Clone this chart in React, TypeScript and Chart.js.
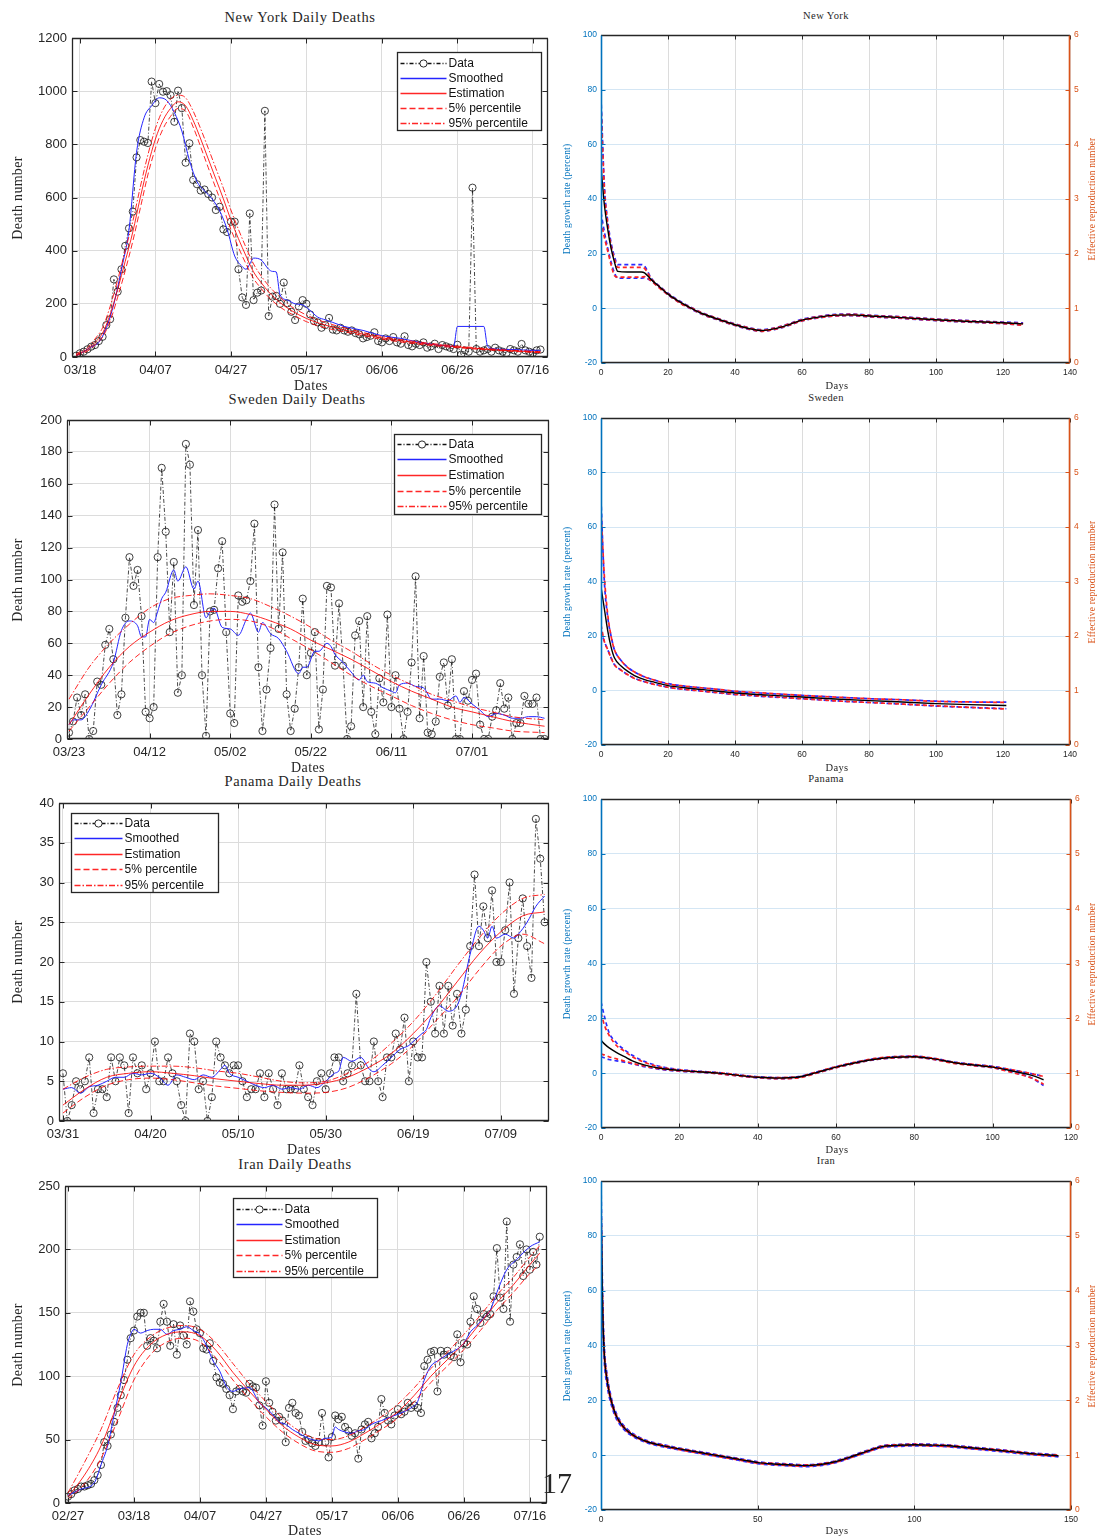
import React, { useEffect, useRef } from 'react';
import { Chart, registerables } from 'chart.js';

Chart.register(...registerables);

const SANS = '"Liberation Sans", Arial, Helvetica, sans-serif';
const SERIF = '"Liberation Serif", "Times New Roman", serif';
Chart.defaults.font.family = SANS;

// ======================= NEW YORK =======================
const nyTickDays = [0, 20, 40, 60, 80, 100, 120];
const nyTickLabels = ['03/18', '04/07', '04/27', '05/17', '06/06', '06/26', '07/16'];
const nyDataStart = -1;
const nyData = [
  5, 14, 20, 29, 39, 45, 60, 76, 120, 142,
  292, 246, 330, 418, 484, 547, 751, 816, 810, 805,
  1036, 955, 1027, 998, 1000, 985, 885, 1002, 936, 731,
  804, 666, 650, 626, 630, 613, 600, 553, 565, 480,
  470, 509, 509, 330, 224, 196, 540, 214, 242, 250,
  926, 154, 227, 230, 200, 280, 202, 170, 139, 190,
  214, 200, 160, 135, 130, 110, 120, 147, 103, 100,
  110, 100, 95, 100, 90, 85, 70, 75, 80, 93,
  60, 55, 70, 60, 75, 55, 50, 78, 45, 40,
  50, 45, 55, 35, 40, 50, 30, 45, 40, 35,
  30, 46, 9, 25, 20, 637, 30, 20, 25, 30,
  20, 35, 25, 20, 15, 30, 25, 20, 49, 25,
  20, 15, 25, 28,
];
const nySmDays = [-1, 1, 3, 5, 7, 9, 11, 13, 15, 17, 19, 21, 23, 25, 27, 29, 31, 33, 35, 37, 39, 41, 43, 44, 45, 46, 48, 50, 51, 52, 53, 55, 57, 59, 61, 63, 65, 67, 70, 75, 80, 85, 90, 95, 99, 100, 107, 108, 110, 115, 120, 122];
const nySm = [5, 20, 38, 55, 110, 200, 330, 478, 770, 900, 945, 975, 965, 920, 850, 740, 660, 625, 595, 550, 480, 380, 340, 330, 350, 372, 365, 330, 322, 320, 235, 214, 200, 196, 175, 150, 140, 130, 115, 100, 80, 70, 55, 45, 40, 115, 115, 40, 30, 28, 25, 25];
const nyEstDays = [-1, 2, 4, 6, 8, 10, 12, 14, 16, 18, 20, 22, 24, 26, 28, 30, 32, 34, 36, 38, 40, 42, 44, 46, 48, 50, 53, 56, 60, 65, 70, 80, 90, 100, 110, 122];
const nyEst = [8, 28, 55, 90, 160, 255, 360, 470, 600, 720, 820, 890, 935, 960, 945, 890, 820, 745, 670, 595, 515, 445, 380, 320, 280, 245, 205, 175, 145, 120, 102, 72, 52, 38, 27, 18];
const nyP95 = [12, 35, 68, 110, 190, 290, 400, 510, 640, 760, 860, 930, 970, 985, 975, 925, 858, 785, 710, 635, 553, 480, 412, 350, 305, 268, 225, 190, 158, 130, 110, 77, 56, 41, 29, 20];
const nyP5 = [5, 22, 45, 75, 135, 225, 325, 435, 560, 685, 785, 858, 905, 935, 925, 865, 790, 712, 635, 560, 480, 412, 350, 295, 258, 225, 188, 162, 133, 110, 95, 67, 48, 35, 25, 16];

const nyRtDays = [0, 1, 2, 3, 4, 5, 8, 12, 13, 15, 18, 20, 24, 27, 30, 35, 40, 45, 48, 52, 56, 60, 65, 70, 75, 80, 90, 100, 110, 120, 126];
const nyGrowth = [52, 38, 29, 22, 17, 13.5, 13.3, 13.3, 13, 10.5, 7.3, 5.2, 2, 0, -1.8, -4, -6, -7.6, -8.1, -7.4, -6, -4.3, -3.2, -2.5, -2.4, -2.8, -3.4, -4.2, -4.8, -5.3, -5.7];
const nyGrowthHi = [77, 45, 32, 24, 19, 16, 16, 16, 15.5, 11, 7.6, 5.5, 2.3, 0.3, -1.5, -3.7, -5.7, -7.3, -7.8, -7.1, -5.7, -4, -2.9, -2.2, -2.1, -2.5, -3.1, -3.9, -4.5, -5, -5.3];
const nyGrowthLo = [35, 28, 22, 17, 13, 11, 11, 11, 11.2, 10, 7, 4.9, 1.7, -0.3, -2.1, -4.3, -6.3, -7.9, -8.4, -7.7, -6.3, -4.6, -3.5, -2.8, -2.7, -3.1, -3.7, -4.5, -5.1, -5.6, -6.1];
const nyRHi = [4.7, 3.2, 2.55, 2.15, 1.9, 1.75, 1.75, 1.75, 1.73, 1.54, 1.37, 1.27, 1.1, 1.01, 0.92, 0.81, 0.71, 0.63, 0.6, 0.64, 0.71, 0.79, 0.85, 0.88, 0.89, 0.87, 0.84, 0.8, 0.77, 0.74, 0.72];
const nyRLo = [2.6, 2.3, 2.05, 1.8, 1.6, 1.57, 1.57, 1.57, 1.58, 1.5, 1.34, 1.25, 1.08, 0.99, 0.9, 0.79, 0.69, 0.61, 0.58, 0.62, 0.69, 0.77, 0.83, 0.86, 0.87, 0.85, 0.82, 0.78, 0.75, 0.72, 0.69];

// ======================= SWEDEN =======================
const swTickDays = [0, 20, 40, 60, 80, 100];
const swTickLabels = ['03/23', '04/12', '05/02', '05/22', '06/11', '07/01'];
const swDataStart = 0;
const swData = [
  4, 11, 26, 15, 28, 0, 5, 36, 34, 59,
  69, 50, 15, 28, 76, 114, 96, 106, 77, 17,
  13, 20, 114, 170, 130, 67, 111, 29, 40, 185,
  172, 84, 131, 40, 2, 80, 81, 107, 124, 67,
  16, 10, 90, 86, 87, 99, 135, 45, 5, 31,
  57, 147, 69, 117, 28, 5, 19, 45, 88, 40,
  54, 67, 6, 31, 96, 95, 46, 85, 46, 0,
  8, 65, 74, 20, 77, 17, 3, 38, 23, 78,
  20, 40, 19, 0, 17, 48, 102, 13, 52, 4,
  3, 11, 39, 48, 21, 50, 0, 0, 30, 24,
  37, 41, 9, 0, 0, 14, 18, 35, 19, 26,
  0, 10, 10, 27, 22, 22, 26, 0, 0,
];
const swSmDays = [0, 1, 3, 5, 8, 11, 13, 15, 17, 18, 19, 20, 21, 22, 23, 24, 26, 27, 29, 31, 32, 34, 35, 36, 38, 40, 42, 44, 45, 47, 48, 50, 52, 54, 57, 58, 59, 61, 62, 64, 65, 66, 68, 70, 72, 73, 74, 76, 78, 80, 81, 82, 84, 86, 88, 90, 92, 94, 96, 97, 98, 100, 102, 104, 106, 108, 110, 112, 114, 116, 118];
const swSm = [9, 12, 12, 18, 34, 48, 68, 74, 71, 64, 64, 75, 73, 80, 88, 92, 106, 99, 108, 94, 99, 76, 80, 82, 70, 69, 65, 75, 79, 67, 73, 66, 63, 55, 41, 45, 45, 55, 55, 60, 58, 53, 48, 42, 37, 40, 36, 35, 32, 30, 29, 34, 35, 33, 32, 25, 25, 24, 27, 23, 26, 22, 18, 14, 16, 15, 13, 13, 14, 14, 13];
const swEstDays = [0, 5, 10, 15, 20, 25, 30, 35, 40, 45, 50, 55, 60, 65, 70, 75, 80, 85, 90, 95, 100, 105, 110, 118];
const swEst = [9, 28, 45, 58, 67, 74, 78, 80, 80, 78, 74, 69, 62, 56, 50, 43, 36, 30, 25, 20, 17, 14, 11, 8];
const swP95 = [25, 45, 60, 72, 82, 88, 90, 91, 90, 88, 83, 77, 70, 62, 55, 47, 40, 34, 28, 24, 20, 17, 14, 12];
const swP5 = [5, 20, 35, 48, 58, 66, 71, 74, 75, 74, 70, 63, 56, 48, 40, 33, 27, 21, 16, 12, 9, 7, 5, 4];

const swRtDays = [0, 1, 2, 3, 4, 6, 8, 10, 13, 16, 20, 25, 30, 35, 40, 50, 60, 70, 80, 90, 100, 110, 121];
const swGrowth = [38, 30, 22, 16, 12, 9, 7, 5.5, 4, 3, 1.8, 1, 0.4, -0.3, -0.9, -1.7, -2.4, -3.1, -3.7, -4.2, -4.8, -5.2, -5.5];
const swGrowthHi = [70, 40, 27, 20, 15, 11, 8.5, 6.8, 5, 3.8, 2.5, 1.6, 1, 0.4, -0.3, -1.1, -1.8, -2.4, -3, -3.4, -3.9, -4.2, -4.3];
const swGrowthLo = [22, 18, 15, 12, 9.5, 7.5, 5.8, 4.5, 3.2, 2.3, 1.2, 0.4, -0.2, -0.9, -1.5, -2.3, -3, -3.8, -4.4, -5, -5.7, -6.2, -6.7];
const swRHi = [4.3, 3.1, 2.4, 2, 1.75, 1.55, 1.42, 1.34, 1.25, 1.19, 1.12, 1.08, 1.05, 1.02, 0.99, 0.95, 0.91, 0.88, 0.85, 0.83, 0.8, 0.79, 0.78];
const swRLo = [2.2, 1.9, 1.75, 1.6, 1.47, 1.37, 1.29, 1.22, 1.16, 1.11, 1.06, 1.02, 0.99, 0.96, 0.93, 0.89, 0.85, 0.81, 0.78, 0.75, 0.72, 0.69, 0.66];

// ======================= PANAMA =======================
const paTickDays = [0, 20, 40, 60, 80, 100];
const paTickLabels = ['03/31', '04/20', '05/10', '05/30', '06/19', '07/09'];
const paDataStart = 0;
const paData = [
  6, 0, 2, 5, 4, 5, 8, 1, 4, 4,
  3, 8, 5, 8, 7, 1, 8, 6, 7, 4,
  6, 10, 5, 5, 8, 6, 5, 2, 0, 11,
  10, 4, 5, 0, 3, 10, 8, 7, 6, 7,
  7, 5, 3, 4, 4, 6, 3, 6, 4, 2,
  6, 4, 4, 4, 7, 4, 3, 2, 5, 6,
  4, 6, 8, 8, 5, 6, 7, 16, 7, 5,
  5, 10, 5, 3, 8, 8, 11, 9, 13, 5,
  10, 8, 8, 20, 15, 11, 17, 11, 17, 12,
  16, 11, 14, 22, 31, 22, 27, 23, 29, 20,
  20, 24, 30, 16, 23, 28, 22, 18, 38, 33,
  25,
];
const paSmDays = [0, 2, 4, 6, 8, 10, 12, 14, 16, 18, 20, 22, 24, 26, 28, 30, 32, 34, 36, 37, 38, 40, 42, 44, 46, 48, 50, 52, 54, 56, 58, 60, 62, 63, 64, 66, 68, 70, 71, 73, 75, 77, 79, 80, 82, 83, 84, 86, 88, 90, 91, 93, 95, 96, 97, 98, 99, 101, 103, 104, 106, 108, 110];
const paSm = [4, 4.2, 3.5, 4.3, 4.5, 5, 5.5, 5.5, 6, 5.8, 6, 5.5, 4.5, 5.8, 5.5, 5.2, 5.8, 5.5, 6.5, 7, 6, 5.5, 5, 4.5, 4.2, 4.5, 4, 4.2, 4, 4.5, 4.2, 5, 6, 6.3, 8, 7.5, 8, 6.5, 6.2, 7, 8, 9, 9.5, 10, 11, 11.5, 13, 14.5, 13.8, 14.5, 16, 21, 24.5, 24, 23, 24.5, 23, 23.5, 23, 23.5, 25, 27, 28.3];
const paEstDays = [0, 5, 10, 15, 20, 25, 30, 35, 40, 45, 50, 55, 60, 65, 70, 75, 80, 85, 90, 95, 100, 105, 110];
const paEst = [2, 4, 5.5, 6, 6.2, 6, 5.7, 5.3, 5, 4.7, 4.5, 4.5, 4.8, 5.5, 6.8, 8.5, 11, 14, 17.5, 21, 23.8, 25.8, 26.3];
const paP95 = [4, 5.5, 6.5, 6.8, 6.9, 6.9, 6.7, 6.3, 6, 5.5, 5, 4.8, 5, 6, 7.5, 9.8, 12.5, 15.8, 19.5, 23, 26, 28, 28.5];
const paP5 = [1, 3, 4.5, 5.2, 5.4, 5.2, 4.8, 4.4, 4.1, 3.8, 3.6, 3.5, 3.6, 4.2, 5.5, 7.2, 9.5, 12.5, 15.5, 19, 22, 23.5, 22.3];

const paRtDays = [0, 1, 2, 4, 6, 8, 11, 15, 20, 25, 30, 35, 40, 45, 50, 55, 60, 65, 70, 75, 80, 85, 90, 95, 100, 105, 110, 113];
const paGrowth = [12, 10.5, 9.3, 7.5, 6, 4.5, 3, 1.8, 1, 0.5, 0, -0.8, -1.5, -1.8, -1.5, 0.2, 2.2, 3.8, 5.1, 5.8, 6, 5.2, 3.9, 3, 2.2, 0.8, -0.8, -2.4];
const paGrowthHi = [26, 20, 15, 11, 8.5, 6.5, 4.3, 2.5, 1.3, 0.7, 0.2, -0.6, -1.3, -1.6, -1.3, 0.4, 2.4, 4, 5.3, 6, 6.2, 5.4, 4.1, 3.2, 2.5, 1.2, -0.2, -1.2];
const paGrowthLo = [6, 5.5, 5, 4.5, 4, 3.4, 2.4, 1.4, 0.7, 0.3, -0.2, -1, -1.7, -2, -1.7, 0, 2, 3.6, 4.9, 5.6, 5.8, 5, 3.7, 2.8, 2, 0.4, -1.8, -4.5];
const paRHi = [2.1, 1.85, 1.7, 1.5, 1.4, 1.3, 1.2, 1.11, 1.06, 1.03, 1.01, 0.97, 0.93, 0.92, 0.93, 1.02, 1.12, 1.2, 1.27, 1.3, 1.31, 1.27, 1.2, 1.16, 1.12, 1.06, 0.99, 0.94];
const paRLo = [1.35, 1.33, 1.3, 1.26, 1.22, 1.18, 1.13, 1.08, 1.04, 1.02, 0.99, 0.95, 0.92, 0.9, 0.91, 1, 1.1, 1.18, 1.25, 1.28, 1.29, 1.25, 1.18, 1.14, 1.1, 1.01, 0.91, 0.8];

// ======================= IRAN =======================
const irTickDays = [0, 20, 40, 60, 80, 100, 120, 140];
const irTickLabels = ['02/27', '03/18', '04/07', '04/27', '05/17', '06/06', '06/26', '07/16'];
const irDataStart = 0;
const irData = [
  5, 7, 10, 11, 13, 13, 14, 15, 18, 22,
  30, 48, 45, 54, 64, 75, 85, 97, 113, 130,
  136, 147, 150, 150, 124, 130, 128, 122, 143, 157,
  143, 124, 141, 117, 140, 132, 125, 159, 151, 137,
  134, 122, 121, 126, 112, 99, 95, 94, 90, 85,
  74, 88, 90, 88, 87, 94, 92, 91, 77, 61,
  96, 79, 72, 65, 68, 65, 48, 75, 79, 71,
  69, 56, 49, 50, 47, 45, 48, 71, 48, 36,
  52, 69, 66, 68, 60, 57, 53, 55, 35, 58,
  62, 64, 51, 55, 60, 82, 71, 65, 62, 69,
  74, 70, 72, 79, 75, 77, 75, 71, 108, 113,
  119, 120, 88, 120, 117, 120, 116, 115, 133, 111,
  126, 125, 143, 163, 153, 142, 149, 147, 149, 163,
  201, 162, 153, 222, 143, 188, 194, 204, 179, 200,
  184, 198, 188, 210,
];
const irSmDays = [0, 4, 8, 10, 12, 14, 16, 18, 19, 20, 22, 24, 26, 28, 30, 32, 34, 36, 38, 40, 42, 44, 46, 48, 50, 52, 55, 58, 60, 62, 64, 66, 68, 70, 72, 74, 76, 78, 80, 81, 82, 84, 86, 88, 90, 92, 95, 98, 100, 104, 106, 108, 110, 112, 115, 120, 122, 124, 126, 128, 130, 133, 136, 140, 143];
const irSm = [6, 11, 16, 30, 45, 70, 95, 125, 133, 137, 134, 136, 137, 137, 133, 136, 137, 139, 136, 133, 124, 112, 104, 92, 88, 90, 91, 79, 75, 70, 64, 62, 58, 55, 52, 50, 49, 51, 52, 60, 58, 56, 55, 57, 58, 62, 65, 68, 70, 75, 80, 97, 108, 112, 117, 126, 135, 140, 146, 152, 166, 184, 192, 202, 206];
const irEstDays = [0, 5, 10, 15, 20, 25, 30, 35, 40, 45, 50, 55, 60, 65, 70, 75, 80, 85, 90, 95, 100, 105, 110, 115, 120, 125, 130, 135, 140, 143];
const irEst = [5, 22, 45, 78, 108, 125, 133, 135, 132, 120, 103, 88, 74, 61, 52, 46, 45, 48, 55, 63, 72, 85, 100, 113, 126, 142, 158, 172, 188, 197];
const irP95 = [8, 32, 58, 90, 117, 131, 138, 140, 137, 126, 110, 94, 80, 67, 57, 51, 50, 53, 60, 68, 78, 91, 106, 119, 133, 148, 164, 178, 194, 203];
const irP5 = [3, 15, 35, 65, 97, 117, 127, 130, 127, 114, 97, 82, 68, 56, 47, 41, 40, 43, 50, 58, 67, 80, 95, 108, 121, 136, 152, 166, 181, 188];

const irRtDays = [0, 0.5, 1, 2, 3, 4, 5, 7, 9, 11, 15, 20, 25, 30, 35, 40, 45, 50, 55, 60, 65, 70, 75, 80, 85, 90, 95, 100, 105, 110, 115, 120, 125, 130, 135, 140, 146];
const irGrowth = [95, 55, 38, 27, 21, 17, 14, 10.5, 8.3, 6.8, 4.8, 3.4, 2.3, 1.3, 0.3, -0.7, -1.7, -2.7, -3.2, -3.5, -3.8, -3.4, -2.3, -0.5, 1.5, 3.2, 3.6, 3.8, 3.7, 3.5, 3, 2.5, 2, 1.4, 0.8, 0.3, -0.2];
const irGrowthHi = [100, 60, 41, 29, 22.5, 18, 15, 11.2, 8.9, 7.3, 5.2, 3.8, 2.6, 1.6, 0.6, -0.4, -1.4, -2.4, -2.9, -3.2, -3.5, -3.1, -2, -0.2, 1.8, 3.5, 3.9, 4.1, 4, 3.8, 3.3, 2.8, 2.3, 1.7, 1.1, 0.6, 0.1];
const irGrowthLo = [85, 50, 35, 25, 19.5, 15.8, 13, 9.8, 7.7, 6.3, 4.4, 3, 1.9, 0.9, -0.1, -1.1, -2.1, -3.1, -3.6, -3.9, -4.2, -3.8, -2.7, -0.9, 1.1, 2.8, 3.2, 3.4, 3.3, 3.1, 2.6, 2.1, 1.6, 1, 0.4, -0.1, -0.6];
const irRHi = [5.7, 3.8, 2.95, 2.4, 2.08, 1.87, 1.72, 1.54, 1.43, 1.35, 1.25, 1.18, 1.12, 1.07, 1.02, 0.97, 0.92, 0.87, 0.85, 0.83, 0.82, 0.84, 0.89, 0.98, 1.08, 1.17, 1.19, 1.2, 1.19, 1.18, 1.16, 1.13, 1.11, 1.08, 1.05, 1.02, 1];
const irRLo = [5.2, 3.6, 2.85, 2.32, 2.02, 1.82, 1.68, 1.51, 1.4, 1.33, 1.23, 1.16, 1.1, 1.05, 1, 0.95, 0.9, 0.85, 0.83, 0.81, 0.8, 0.82, 0.87, 0.96, 1.06, 1.15, 1.17, 1.18, 1.17, 1.16, 1.14, 1.11, 1.09, 1.06, 1.03, 1, 0.98];

// ======================= PLUGINS =======================
const framePlugin = {
  id: 'frame',
  afterDraw(chart: any, _args: any, opts: any) {
    const { ctx, chartArea: a, scales } = chart;
    const L = Math.round(a.left) + 0.5;
    const R = Math.round(a.right) - 0.5;
    const T = Math.round(a.top) + 0.5;
    const B = Math.round(a.bottom) - 0.5;
    const tl = opts.tick || 5;
    const w = opts.width || 1;
    const dark = '#262626';
    const line = (x1: number, y1: number, x2: number, y2: number, c: string, lw: number) => {
      ctx.strokeStyle = c;
      ctx.lineWidth = lw;
      ctx.beginPath();
      ctx.moveTo(x1, y1);
      ctx.lineTo(x2, y2);
      ctx.stroke();
    };
    ctx.save();
    ctx.setLineDash([]);
    const leftC = opts.leftColor || dark;
    const rightC = opts.rightColor || dark;
    scales.x.ticks.forEach((t: any) => {
      const px = Math.round(scales.x.getPixelForValue(t.value)) + 0.5;
      line(px, B, px, B - tl, dark, 1);
      line(px, T, px, T + tl, dark, 1);
    });
    scales.y.ticks.forEach((t: any) => {
      const py = Math.round(scales.y.getPixelForValue(t.value)) + 0.5;
      line(L, py, L + tl, py, leftC, 1);
      if (!scales.y1) line(R, py, R - tl, py, dark, 1);
    });
    if (scales.y1) {
      scales.y1.ticks.forEach((t: any) => {
        const py = Math.round(scales.y1.getPixelForValue(t.value)) + 0.5;
        line(R, py, R - tl, py, rightC, 1);
      });
    }
    line(L - 0.5, B, R + 0.5, B, dark, w);
    line(L - 0.5, T, R + 0.5, T, dark, w);
    line(L, T, L, B, leftC, w);
    line(R, T, R, B, rightC, w);
    ctx.restore();
  },
};

const legendPlugin = {
  id: 'matLegend',
  afterDraw(chart: any, _args: any, opts: any) {
    if (!opts || !opts.box) return;
    const { ctx, chartArea } = chart;
    const b = opts.box;
    const x = Math.round(chartArea.left + b.x) + 0.5;
    const y = Math.round(chartArea.top + b.y) + 0.5;
    ctx.save();
    ctx.setLineDash([]);
    ctx.fillStyle = '#ffffff';
    ctx.fillRect(x, y, b.w, b.h);
    ctx.strokeStyle = '#262626';
    ctx.lineWidth = 1.3;
    ctx.strokeRect(x, y, b.w, b.h);
    chart.data.datasets.forEach((ds: any, i: number) => {
      const cy = Math.round(y + b.rowTop + i * b.rowH) + 0.5;
      const x0 = x + 3;
      const x1 = x + 3 + b.lineLen;
      ctx.strokeStyle = ds.legendColor || ds.borderColor;
      ctx.lineWidth = 1.4;
      ctx.setLineDash(ds.borderDash || []);
      ctx.beginPath();
      ctx.moveTo(x0, cy);
      ctx.lineTo(x1, cy);
      ctx.stroke();
      ctx.setLineDash([]);
      if (ds.pointRadius > 0) {
        ctx.beginPath();
        ctx.arc((x0 + x1) / 2, cy, ds.pointRadius, 0, Math.PI * 2);
        ctx.fillStyle = '#fff';
        ctx.fill();
        ctx.strokeStyle = ds.pointBorderColor;
        ctx.lineWidth = 1;
        ctx.stroke();
      }
      ctx.fillStyle = '#111';
      ctx.font = '12px ' + SANS;
      ctx.textAlign = 'left';
      ctx.textBaseline = 'middle';
      ctx.fillText(ds.label, x1 + 2, cy + 0.5);
    });
    ctx.restore();
  },
};

const pts = (xs: number[], ys: number[]) => xs.map((x, i) => ({ x, y: ys[i] }));

// ======================= CONFIG BUILDERS =======================
const LEFT_PAD = { l: 50, r: 14, t: 10, b: 24 };
const RIGHT_PAD = { l: 30, r: 30, t: 10, b: 20 };

function deathsConfig(p: any) {
  const red = 'rgba(255,0,0,0.85)';
  const daily = p.data.map((v: number, i: number) => ({ x: p.dataStart + i, y: v }));
  return {
    type: 'line',
    data: {
      datasets: [
        {
          label: 'Data', data: daily, borderColor: 'rgba(0,0,0,0.8)', legendColor: '#111', borderWidth: 0.9,
          borderDash: [4, 2, 1, 2], pointRadius: 3.6, pointBorderColor: 'rgba(20,20,20,0.9)',
          pointBackgroundColor: 'rgba(0,0,0,0)', pointBorderWidth: 0.9, tension: 0, order: 5,
        },
        {
          label: 'Smoothed', data: pts(p.smDays, p.sm), borderColor: '#2424ff', borderWidth: 1,
          pointRadius: 0, cubicInterpolationMode: 'monotone', order: 4,
        },
        {
          label: 'Estimation', data: pts(p.estDays, p.est), borderColor: red, borderWidth: 1,
          pointRadius: 0, cubicInterpolationMode: 'monotone', order: 3,
        },
        {
          label: '5% percentile', data: pts(p.estDays, p.p5), borderColor: red, borderWidth: 1,
          borderDash: [6, 3], pointRadius: 0, cubicInterpolationMode: 'monotone', order: 2,
        },
        {
          label: '95% percentile', data: pts(p.estDays, p.p95), borderColor: red, borderWidth: 1,
          borderDash: [6, 2, 1.5, 2], pointRadius: 0, cubicInterpolationMode: 'monotone', order: 1,
        },
      ],
    },
    options: {
      responsive: false,
      animation: false,
      events: [],
      layout: { padding: { top: LEFT_PAD.t, right: LEFT_PAD.r, left: 0, bottom: 0 } },
      plugins: {
        legend: { display: false },
        tooltip: { enabled: false },
        title: { display: false },
        matLegend: { box: p.legend },
        frame: { tick: 5, width: 1.3 },
      },
      scales: {
        x: {
          type: 'linear', min: p.xMin, max: p.xMax,
          afterBuildTicks: (s: any) => { s.ticks = p.tickDays.map((v: number) => ({ value: v })); },
          ticks: {
            callback: (_v: any, i: number) => p.tickLabels[i], autoSkip: false, maxRotation: 0,
            font: { size: 13, family: SANS }, color: '#262626', padding: 6,
          },
          grid: { color: '#dcdcdc', drawTicks: false },
          border: { display: false },
          afterFit: (s: any) => { s.height = LEFT_PAD.b; s.paddingLeft = 0; s.paddingRight = 0; },
        },
        y: {
          type: 'linear', min: 0, max: p.yMax,
          ticks: {
            stepSize: p.yStep, font: { size: 13, family: SANS }, color: '#262626', padding: 5,
            callback: (v: any) => String(v),
          },
          grid: { color: '#dcdcdc', drawTicks: false },
          border: { display: false },
          afterFit: (s: any) => { s.width = LEFT_PAD.l; s.paddingTop = 0; s.paddingBottom = 0; },
        },
      },
    },
    plugins: [framePlugin, legendPlugin],
  };
}

function rateConfig(p: any) {
  const blue = '#2a2aff';
  const red = '#ff2222';
  const common = { pointRadius: 0, cubicInterpolationMode: 'monotone' };
  return {
    type: 'line',
    data: {
      datasets: [
        { label: 'Death growth rate', data: pts(p.days, p.g), borderColor: '#000', borderWidth: 1.4, yAxisID: 'y', order: 1, ...common },
        { label: 'Growth rate upper', data: pts(p.days, p.gHi), borderColor: blue, borderWidth: 1.7, borderDash: [4, 3], yAxisID: 'y', order: 3, ...common },
        { label: 'Growth rate lower', data: pts(p.days, p.gLo), borderColor: blue, borderWidth: 1.7, borderDash: [4, 3], yAxisID: 'y', order: 3, ...common },
        { label: 'Rt upper', data: pts(p.days, p.rHi), borderColor: red, borderWidth: 1.7, borderDash: [4, 3], yAxisID: 'y1', order: 2, ...common },
        { label: 'Rt lower', data: pts(p.days, p.rLo), borderColor: red, borderWidth: 1.7, borderDash: [4, 3], yAxisID: 'y1', order: 2, ...common },
      ],
    },
    options: {
      responsive: false,
      animation: false,
      events: [],
      layout: { padding: { top: RIGHT_PAD.t, right: 0, left: 0, bottom: 0 } },
      plugins: {
        legend: { display: false },
        tooltip: { enabled: false },
        title: { display: false },
        frame: { tick: 4, width: 1.6, leftColor: '#0072BD', rightColor: '#D95319' },
      },
      scales: {
        x: {
          type: 'linear', min: 0, max: p.xMax,
          ticks: { stepSize: p.xStep, font: { size: 8.5, family: SANS }, color: '#262626', padding: 5, maxRotation: 0 },
          grid: { color: '#dcdcdc', drawTicks: false },
          border: { display: false },
          afterFit: (s: any) => { s.height = RIGHT_PAD.b; s.paddingLeft = 0; s.paddingRight = 0; },
        },
        y: {
          type: 'linear', position: 'left', min: -20, max: 100,
          ticks: { stepSize: 20, font: { size: 8.5, family: SANS }, color: '#0072BD', padding: 4 },
          grid: { color: '#d4e6f4', drawTicks: false },
          border: { display: false },
          afterFit: (s: any) => { s.width = RIGHT_PAD.l; s.paddingTop = 0; s.paddingBottom = 0; },
        },
        y1: {
          type: 'linear', position: 'right', min: 0, max: 6,
          ticks: { stepSize: 1, font: { size: 8.5, family: SANS }, color: '#D95319', padding: 4 },
          grid: { display: false, drawTicks: false },
          border: { display: false },
          afterFit: (s: any) => { s.width = RIGHT_PAD.r; s.paddingTop = 0; s.paddingBottom = 0; },
        },
      },
    },
    plugins: [framePlugin],
  };
}

// ======================= PANEL DEFINITIONS =======================
const leftPanels = [
  {
    plot: { l: 72, t: 38, r: 548, b: 357 },
    cfg: () => deathsConfig({
      data: nyData, dataStart: nyDataStart, smDays: nySmDays, sm: nySm, estDays: nyEstDays, est: nyEst, p5: nyP5, p95: nyP95,
      xMin: -2.1, xMax: 124, tickDays: nyTickDays, tickLabels: nyTickLabels, yMax: 1200, yStep: 200,
      legend: { x: 325, y: 14, w: 144, h: 78, rowTop: 10, rowH: 15, lineLen: 46 },
    }),
  },
  {
    plot: { l: 67, t: 420, r: 549, b: 739 },
    cfg: () => deathsConfig({
      data: swData, dataStart: swDataStart, smDays: swSmDays, sm: swSm, estDays: swEstDays, est: swEst, p5: swP5, p95: swP95,
      xMin: -0.5, xMax: 119.1, tickDays: swTickDays, tickLabels: swTickLabels, yMax: 200, yStep: 20,
      legend: { x: 327, y: 14, w: 147, h: 80, rowTop: 9, rowH: 15.7, lineLen: 49 },
    }),
  },
  {
    plot: { l: 59, t: 803, r: 549, b: 1121 },
    cfg: () => deathsConfig({
      data: paData, dataStart: paDataStart, smDays: paSmDays, sm: paSm, estDays: paEstDays, est: paEst, p5: paP5, p95: paP95,
      xMin: -0.9, xMax: 111, tickDays: paTickDays, tickLabels: paTickLabels, yMax: 40, yStep: 5,
      legend: { x: 12, y: 10, w: 147, h: 79, rowTop: 9, rowH: 15.5, lineLen: 48 },
    }),
  },
  {
    plot: { l: 65, t: 1186, r: 547, b: 1503 },
    cfg: () => deathsConfig({
      data: irData, dataStart: irDataStart, smDays: irSmDays, sm: irSm, estDays: irEstDays, est: irEst, p5: irP5, p95: irP95,
      xMin: -0.9, xMax: 145.2, tickDays: irTickDays, tickLabels: irTickLabels, yMax: 250, yStep: 50,
      legend: { x: 168, y: 12, w: 144, h: 79, rowTop: 10, rowH: 15.6, lineLen: 46 },
    }),
  },
];

const rightPanels = [
  {
    plot: { l: 601, t: 35, r: 1070, b: 363 },
    cfg: () => rateConfig({ days: nyRtDays, g: nyGrowth, gHi: nyGrowthHi, gLo: nyGrowthLo, rHi: nyRHi, rLo: nyRLo, xMax: 140, xStep: 20 }),
  },
  {
    plot: { l: 601, t: 418, r: 1070, b: 745 },
    cfg: () => rateConfig({ days: swRtDays, g: swGrowth, gHi: swGrowthHi, gLo: swGrowthLo, rHi: swRHi, rLo: swRLo, xMax: 140, xStep: 20 }),
  },
  {
    plot: { l: 601, t: 799, r: 1071, b: 1128 },
    cfg: () => rateConfig({ days: paRtDays, g: paGrowth, gHi: paGrowthHi, gLo: paGrowthLo, rHi: paRHi, rLo: paRLo, xMax: 120, xStep: 20 }),
  },
  {
    plot: { l: 601, t: 1181, r: 1071, b: 1510 },
    cfg: () => rateConfig({ days: irRtDays, g: irGrowth, gHi: irGrowthHi, gLo: irGrowthLo, rHi: irRHi, rLo: irRLo, xMax: 150, xStep: 50 }),
  },
];

const leftTitles = ['New York Daily Deaths', 'Sweden Daily Deaths', 'Panama Daily Deaths', 'Iran Daily Deaths'];
const rightTitles = ['New York', 'Sweden', 'Panama', 'Iran'];

// ======================= COMPONENTS =======================
function ChartCanvas({ left, top, width, height, make }: any) {
  const ref = useRef<HTMLCanvasElement>(null);
  useEffect(() => {
    const chart = new Chart(ref.current as HTMLCanvasElement, make());
    return () => chart.destroy();
  }, [make]);
  return (
    <canvas
      ref={ref}
      width={width}
      height={height}
      style={{ position: 'absolute', left, top, width, height }}
    />
  );
}

function Txt({ x, y, size, color = '#262626', rotate = false, spacing = 0, family = SERIF, children }: any) {
  return (
    <div
      style={{
        position: 'absolute', left: x, top: y, fontSize: size, color, fontFamily: family,
        whiteSpace: 'nowrap', lineHeight: 1, letterSpacing: spacing,
        transform: `translate(-50%, -50%)${rotate ? ' rotate(-90deg)' : ''}`,
      }}
    >
      {children}
    </div>
  );
}

const leftTitlePos = [[300, 17], [297, 399], [293, 781], [295, 1164]];
const datesPos = [[311, 386], [308, 768], [304, 1150], [305, 1531]];
const rightTitleY = [16, 398, 779, 1161];
const daysY = [386, 768, 1150, 1531];

export default function App() {
  return (
    <div style={{ position: 'absolute', left: 0, top: 0, width: 1104, height: 1539, background: '#fff', overflow: 'hidden' }}>
      {leftPanels.map((p, i) => (
        <ChartCanvas
          key={'l' + i}
          left={p.plot.l - LEFT_PAD.l}
          top={p.plot.t - LEFT_PAD.t}
          width={p.plot.r - p.plot.l + LEFT_PAD.l + LEFT_PAD.r}
          height={p.plot.b - p.plot.t + LEFT_PAD.t + LEFT_PAD.b}
          make={p.cfg}
        />
      ))}
      {rightPanels.map((p, i) => (
        <ChartCanvas
          key={'r' + i}
          left={p.plot.l - RIGHT_PAD.l}
          top={p.plot.t - RIGHT_PAD.t}
          width={p.plot.r - p.plot.l + RIGHT_PAD.l + RIGHT_PAD.r}
          height={p.plot.b - p.plot.t + RIGHT_PAD.t + RIGHT_PAD.b}
          make={p.cfg}
        />
      ))}
      {leftTitles.map((t, i) => (
        <Txt key={'lt' + i} x={leftTitlePos[i][0]} y={leftTitlePos[i][1]} size={14.5} spacing={0.6}>{t}</Txt>
      ))}
      {datesPos.map((p, i) => (
        <Txt key={'dt' + i} x={p[0]} y={p[1]} size={14} spacing={0.4}>Dates</Txt>
      ))}
      {leftPanels.map((p, i) => (
        <Txt key={'dn' + i} x={18} y={(p.plot.t + p.plot.b) / 2} size={14} spacing={0.3} rotate>Death number</Txt>
      ))}
      {rightTitles.map((t, i) => (
        <Txt key={'rt' + i} x={826} y={rightTitleY[i]} size={10.5} spacing={0.4}>{t}</Txt>
      ))}
      {daysY.map((y, i) => (
        <Txt key={'dy' + i} x={837} y={y} size={10.5} spacing={0.3}>Days</Txt>
      ))}
      {rightPanels.map((p, i) => (
        <Txt key={'gr' + i} x={568} y={(p.plot.t + p.plot.b) / 2} size={9.5} spacing={0.2} color="#0072BD" rotate>Death growth rate (percent)</Txt>
      ))}
      {rightPanels.map((p, i) => (
        <Txt key={'er' + i} x={1093} y={(p.plot.t + p.plot.b) / 2} size={9.5} spacing={0.2} color="#D95319" rotate>Effective reproduction number</Txt>
      ))}
      <Txt x={557} y={1483} size={30}>17</Txt>
    </div>
  );
}
